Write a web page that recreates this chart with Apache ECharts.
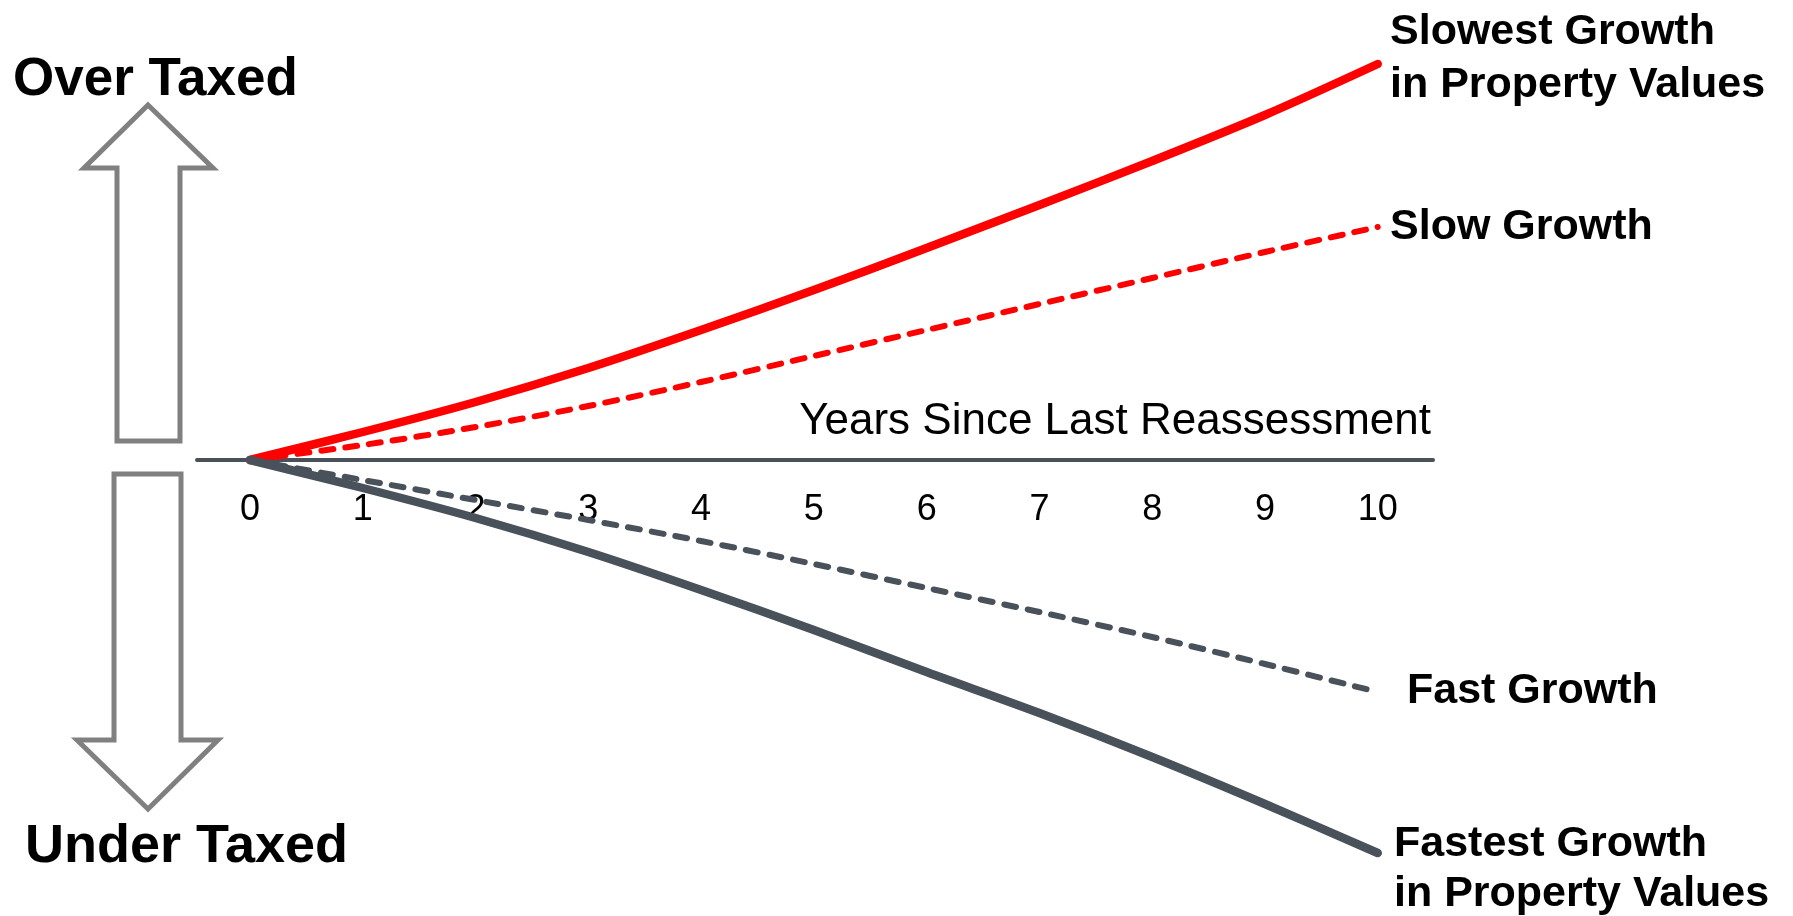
<!DOCTYPE html>
<html>
<head>
<meta charset="utf-8">
<title>Years Since Last Reassessment</title>
<script src="https://cdn.jsdelivr.net/npm/echarts@6/dist/echarts.min.js"></script>
<style>
  html, body { margin: 0; padding: 0; background: #ffffff; }
  #chart { width: 1793px; height: 916px; }
</style>
</head>
<body>
<div id="chart"></div>
<script>
// Years since the last reassessment
var years = [0, 1, 2, 3, 4, 5, 6, 7, 8, 9, 10];
var yearTicks = ['0', '1', '2', '3', '4', '5', '6', '7', '8', '9', '10'];

// Assessment gap (positive = over taxed, negative = under taxed)
var slowestGrowth = [0, 2.8, 5.8, 9.2, 13.0, 17.0, 21.2, 25.5, 29.9, 34.5, 39.6];
var slowGrowth    = [0, 1.5, 3.3, 5.4, 7.8, 10.4, 13.0, 15.6, 18.2, 20.8, 23.3];
var fastGrowth    = [0, -2.0, -4.0, -6.0, -8.1, -10.4, -12.8, -15.2, -17.7, -20.4, -23.2];
var fastestGrowth = [0, -2.8, -5.8, -9.2, -13.0, -17.0, -21.2, -25.3, -29.7, -34.4, -39.3];

var RED = '#ff0000';
var SLATE = '#49525a';
var FONT = '"Liberation Sans", Arial, sans-serif';

function pairs(values) {
  return years.map(function (x, i) { return [x, values[i]]; });
}

// The grid covers the over-taxed half only; the axis sits on its bottom edge
// and the under-taxed curves continue below it (clip: false).
function lineSeries(name, values, color, width, dashed) {
  return {
    name: name,
    type: 'line',
    data: pairs(values),
    smooth: 0.3,
    symbol: 'none',
    silent: true,
    clip: false,
    lineStyle: {
      color: color,
      width: width,
      type: dashed ? [12, 12] : 'solid',
      cap: 'round',
      join: 'round'
    },
    z: dashed ? 3 : 4
  };
}

function label(text, x, y, size, weight, align) {
  return {
    type: 'text',
    x: x,
    y: y,
    silent: true,
    style: {
      text: text,
      fill: '#000000',
      font: weight + ' ' + size + 'px ' + FONT,
      textAlign: align || 'left',
      textVerticalAlign: 'middle'
    },
    z: 10
  };
}

var chart = echarts.init(document.getElementById('chart'), null, { renderer: 'canvas' });

chart.setOption({
  backgroundColor: '#ffffff',
  animation: false,
  grid: {
    left: 197, right: 360, top: 20, bottom: 456,
    containLabel: false,
    outerBoundsMode: 'none'
  },
  xAxis: {
    type: 'value',
    min: -0.47,
    max: 10.49,
    axisLine: { show: true, onZero: false, lineStyle: { color: SLATE, width: 4 } },
    axisTick: { show: false },
    splitLine: { show: false },
    axisLabel: {
      customValues: years,
      formatter: function (v) { return yearTicks[years.indexOf(Math.round(v))]; },
      color: '#000000',
      fontSize: 36,
      fontFamily: FONT,
      margin: 32
    }
  },
  yAxis: {
    type: 'value',
    min: 0,
    max: 44,
    show: false
  },
  series: [
    lineSeries('Slow Growth', slowGrowth, RED, 6, true),
    lineSeries('Fast Growth', fastGrowth, SLATE, 6, true),
    lineSeries('Slowest Growth in Property Values', slowestGrowth, RED, 8.5, false),
    lineSeries('Fastest Growth in Property Values', fastestGrowth, SLATE, 8.5, false)
  ],
  graphic: [
    {
      type: 'polygon',
      silent: true,
      shape: { points: [[148, 105], [213, 168], [180, 168], [180, 441], [117, 441], [117, 168], [84, 168]] },
      style: { fill: '#ffffff', stroke: '#808080', lineWidth: 5 }
    },
    {
      type: 'polygon',
      silent: true,
      shape: { points: [[114, 474], [181, 474], [181, 740], [218, 740], [148, 809], [77, 740], [114, 740]] },
      style: { fill: '#ffffff', stroke: '#808080', lineWidth: 5 }
    },
    label('Over Taxed', 13, 80, 53, 'bold'),
    label('Under Taxed', 25, 847, 54, 'bold'),
    label('Years Since Last Reassessment', 1431, 422, 44, 'normal', 'right'),
    label('Slowest Growth', 1390, 32, 43, 'bold'),
    label('in Property Values', 1390, 85, 43, 'bold'),
    label('Slow Growth', 1390, 227, 43, 'bold'),
    label('Fast Growth', 1407, 691, 43, 'bold'),
    label('Fastest Growth', 1394, 844, 43, 'bold'),
    label('in Property Values', 1394, 894, 43, 'bold')
  ]
});
</script>
</body>
</html>
